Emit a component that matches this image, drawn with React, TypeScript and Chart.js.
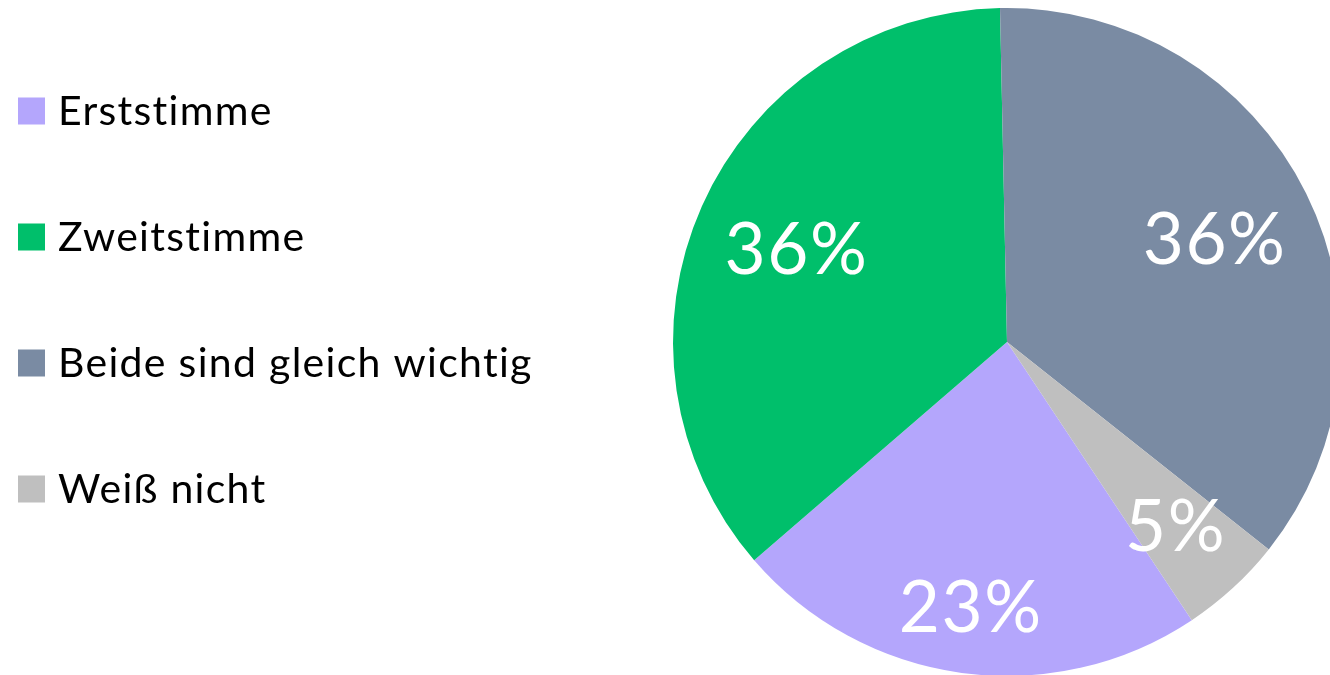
import React, { useEffect, useRef } from "react";
import { Chart, registerables } from "chart.js";

Chart.register(...registerables);

const categories = ["Erststimme", "Zweitstimme", "Beide sind gleich wichtig", "Weiß nicht"];
const values = [23, 36, 36, 5];
const valueLabels = ["23%", "36%", "36%", "5%"];
const colors = ["#B4A6FC", "#00BF6B", "#7A8BA3", "#BFBFBF"];

const FONT = "Lato, 'Open Sans', sans-serif";

const labelPlugin = {
  id: "sliceLabels",
  afterDatasetsDraw(chart: any, _args: any, opts: any) {
    const ctx = chart.ctx;
    const meta = chart.getDatasetMeta(0);
    const radial: number[] = opts.radial;
    ctx.save();
    ctx.fillStyle = "#FFFFFF";
    ctx.font = `${opts.size}px ${FONT}`;
    (ctx as any).letterSpacing = opts.spacing;
    (ctx as any).textRendering = "optimizeSpeed";
    ctx.textAlign = "center";
    ctx.textBaseline = "alphabetic";
    meta.data.forEach((arc: any, i: number) => {
      const { x, y, startAngle, endAngle, outerRadius } = arc.getProps(
        ["x", "y", "startAngle", "endAngle", "outerRadius"],
        true
      );
      const mid = (startAngle + endAngle) / 2;
      const r = outerRadius * radial[i];
      ctx.fillText(
        valueLabels[i],
        x + Math.cos(mid) * r,
        y + Math.sin(mid) * r + opts.size * 0.36
      );
    });
    ctx.restore();
  },
};

const legendPlugin = {
  id: "sideLegend",
  afterDraw(chart: any, _args: any, opts: any) {
    const ctx = chart.ctx;
    ctx.save();
    ctx.font = `${opts.size}px ${FONT}`;
    (ctx as any).letterSpacing = opts.spacing;
    (ctx as any).textRendering = "optimizeSpeed";
    ctx.textBaseline = "alphabetic";
    ctx.textAlign = "left";
    categories.forEach((c, i) => {
      const cy = opts.top + i * opts.step;
      ctx.fillStyle = colors[i];
      ctx.fillRect(opts.left, cy - opts.box / 2, opts.box, opts.box);
      ctx.fillStyle = "#000000";
      ctx.fillText(c, opts.left + opts.box + opts.gap, cy + opts.box / 2);
    });
    ctx.restore();
  },
};

export default function App() {
  const ref = useRef<HTMLCanvasElement>(null);
  useEffect(() => {
    if (!ref.current) return;
    const chart = new Chart(ref.current, {
      type: "pie",
      data: {
        labels: categories,
        datasets: [
          {
            data: values,
            backgroundColor: colors,
            borderWidth: 0,
          },
        ],
      },
      options: {
        responsive: false,
        animation: false,
        devicePixelRatio: 1,
        rotation: 146.4,
        layout: { padding: { left: 673, top: 8, right: 19, bottom: 14 } },
        plugins: {
          legend: { display: false },
          tooltip: { enabled: false },
          sliceLabels: { size: 71, spacing: "1.5px", radial: [0.8, 0.69, 0.694, 0.746] },
          sideLegend: { size: 41, spacing: "1.3px", left: 18, top: 111, step: 126, box: 27, gap: 13 },
        } as any,
      },
      plugins: [labelPlugin, legendPlugin],
    });
    return () => chart.destroy();
  }, []);
  return (
    <div
      style={{
        position: "fixed",
        left: 0,
        top: 0,
        width: 1330,
        height: 675,
        overflow: "hidden",
        background: "#FFFFFF",
      }}
    >
      <canvas ref={ref} width={1360} height={690} style={{ display: "block" }} />
    </div>
  );
}
